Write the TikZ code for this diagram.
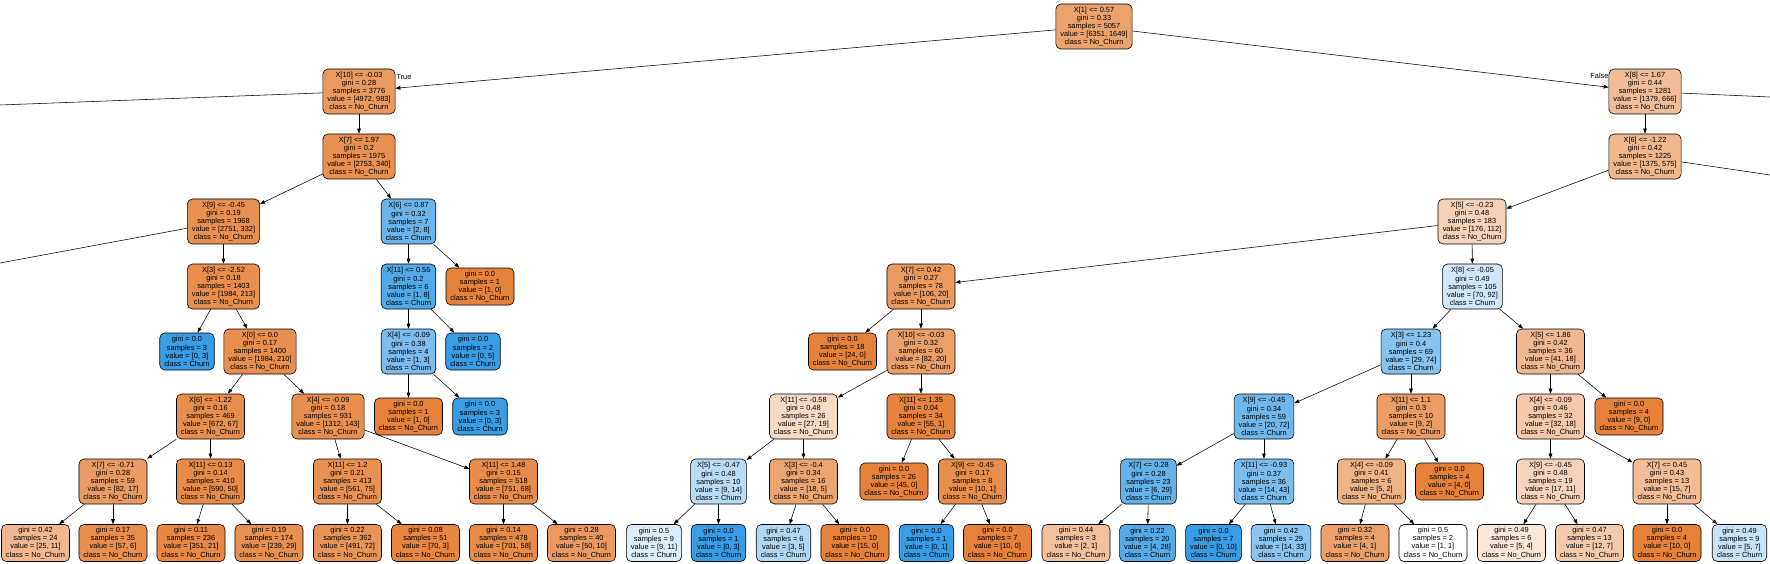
\documentclass[tikz,border=0pt]{standalone}
\usepackage{fontspec}
\setmainfont{Liberation Sans}
\usetikzlibrary{arrows.meta}
\definecolor{orng}{RGB}{229,129,57}
\definecolor{blu}{RGB}{57,157,229}
\newcommand\clsN{No\_Churn}
\newcommand\clsC{Churn}
\newcommand\IN[5]{#1\\gini = #2\\samples = #3\\value = #4\\class = #5}
\newcommand\LF[4]{gini = #1\\samples = #2\\value = #3\\class = #4}
\tikzset{
  box/.style={draw=black, line width=0.6pt, rounded corners=5pt, align=center,
    inner xsep=4.5pt, inner ysep=1pt, font=\fontsize{7.4pt}{8.1pt}\selectfont},
  int/.style={box, minimum height=45pt},
  lf/.style={box, minimum height=37pt},
  o/.style={fill=orng!#1!white},
  b/.style={fill=blu!#1!white},
  edge/.style={-{Triangle[length=5pt,width=3.6pt]}, line width=0.55pt},
  offedge/.style={line width=0.55pt},
  lbl/.style={font=\fontsize{7.4pt}{8.1pt}\selectfont, inner sep=0pt}
}
\begin{document}
\begin{tikzpicture}[x=1pt,y=-1pt]
\useasboundingbox (0,0) rectangle (1770,564);
% level 0-2
\node[int,o=74] (R) at (1094,26.5) {\IN{X[1] <= 0.57}{0.33}{5057}{[6351, 1649]}{\clsN}};
\node[int,o=80] (A) at (359,91.5) {\IN{X[10] <= -0.03}{0.28}{3776}{[4972, 983]}{\clsN}};
\node[int,o=52] (P) at (1645,91.5) {\IN{X[8] <= 1.67}{0.44}{1281}{[1379, 666]}{\clsN}};
\node[int,o=88] (B) at (359,156.5) {\IN{X[7] <= 1.97}{0.2}{1975}{[2753, 340]}{\clsN}};
\node[int,o=58] (Q) at (1645,156.5) {\IN{X[6] <= -1.22}{0.42}{1225}{[1375, 575]}{\clsN}};
% level 3
\node[int,o=88] (C) at (223.5,221.5) {\IN{X[9] <= -0.45}{0.19}{1968}{[2751, 332]}{\clsN}};
\node[int,b=75] (L) at (408.5,221.5) {\IN{X[6] <= 0.87}{0.32}{7}{[2, 8]}{\clsC}};
\node[int,o=36] (S) at (1472,221.5) {\IN{X[5] <= -0.23}{0.48}{183}{[176, 112]}{\clsN}};
% level 4
\node[int,o=89] (D) at (223.5,286.5) {\IN{X[3] <= -2.52}{0.18}{1403}{[1984, 213]}{\clsN}};
\node[int,b=88] (M) at (408.5,286.5) {\IN{X[11] <= 0.55}{0.2}{6}{[1, 8]}{\clsC}};
\node[lf,o=100] (Lr) at (480,286.5) {\LF{0.0}{1}{[1, 0]}{\clsN}};
\node[int,o=81] (T) at (921,286.5) {\IN{X[7] <= 0.42}{0.27}{78}{[106, 20]}{\clsN}};
\node[int,b=24] (AA) at (1472.5,286.5) {\IN{X[8] <= -0.05}{0.49}{105}{[70, 92]}{\clsC}};
% level 5
\node[lf,b=100] (Dl) at (187,351.5) {\LF{0.0}{3}{[0, 3]}{\clsC}};
\node[int,o=89] (E) at (260,351.5) {\IN{X[0] <= 0.0}{0.17}{1400}{[1984, 210]}{\clsN}};
\node[int,b=67] (N) at (408.5,351.5) {\IN{X[4] <= -0.09}{0.38}{4}{[1, 3]}{\clsC}};
\node[lf,b=100] (Mr) at (473,351.5) {\LF{0.0}{2}{[0, 5]}{\clsC}};
\node[lf,o=100] (Tl) at (842.5,351.5) {\LF{0.0}{18}{[24, 0]}{\clsN}};
\node[int,o=76] (U) at (921,351.5) {\IN{X[10] <= -0.03}{0.32}{60}{[82, 20]}{\clsN}};
\node[int,b=61] (AB) at (1411,351.5) {\IN{X[3] <= 1.23}{0.4}{69}{[29, 74]}{\clsC}};
\node[int,o=56] (AH) at (1550.5,351.5) {\IN{X[5] <= 1.86}{0.42}{36}{[41, 18]}{\clsN}};
% level 6
\node[int,o=90] (F) at (210.5,416.5) {\IN{X[6] <= -1.22}{0.16}{469}{[672, 67]}{\clsN}};
\node[int,o=89] (I) at (328,416.5) {\IN{X[4] <= -0.09}{0.18}{931}{[1312, 143]}{\clsN}};
\node[lf,o=100] (Nl) at (408.5,416.5) {\LF{0.0}{1}{[1, 0]}{\clsN}};
\node[lf,b=100] (Nr) at (480,416.5) {\LF{0.0}{3}{[0, 3]}{\clsC}};
\node[int,o=30] (V) at (803.5,416.5) {\IN{X[11] <= -0.58}{0.48}{26}{[27, 19]}{\clsN}};
\node[int,o=98] (Y) at (921,416.5) {\IN{X[11] <= 1.35}{0.04}{34}{[55, 1]}{\clsN}};
\node[int,b=72] (AC) at (1264,416.5) {\IN{X[9] <= -0.45}{0.34}{59}{[20, 72]}{\clsC}};
\node[int,o=78] (AF) at (1411,416.5) {\IN{X[11] <= 1.1}{0.3}{10}{[9, 2]}{\clsN}};
\node[int,o=44] (AI) at (1550.5,416.5) {\IN{X[4] <= -0.09}{0.46}{32}{[32, 18]}{\clsN}};
\node[lf,o=100] (AHr) at (1629,416.5) {\LF{0.0}{4}{[9, 0]}{\clsN}};
% level 7
\node[int,o=79] (G) at (113,481.5) {\IN{X[7] <= -0.71}{0.28}{59}{[82, 17]}{\clsN}};
\node[int,o=92] (H) at (210.5,481.5) {\IN{X[11] <= 0.13}{0.14}{410}{[590, 50]}{\clsN}};
\node[int,o=87] (J) at (347.5,481.5) {\IN{X[11] <= 1.2}{0.21}{413}{[561, 75]}{\clsN}};
\node[int,o=91] (K) at (503.5,481.5) {\IN{X[11] <= 1.48}{0.15}{518}{[751, 68]}{\clsN}};
\node[int,b=36] (W) at (718.5,481.5) {\IN{X[5] <= -0.47}{0.48}{10}{[9, 14]}{\clsC}};
\node[int,o=72] (X) at (803.5,481.5) {\IN{X[3] <= -0.4}{0.34}{16}{[18, 5]}{\clsN}};
\node[lf,o=100] (Yl) at (894,481.5) {\LF{0.0}{26}{[45, 0]}{\clsN}};
\node[int,o=90] (Z) at (972.5,481.5) {\IN{X[9] <= -0.45}{0.17}{8}{[10, 1]}{\clsN}};
\node[int,b=79] (AD) at (1148.5,481.5) {\IN{X[7] <= 0.28}{0.28}{23}{[6, 29]}{\clsC}};
\node[int,b=67] (AE) at (1264,481.5) {\IN{X[11] <= -0.93}{0.37}{36}{[14, 43]}{\clsC}};
\node[int,o=60] (AG) at (1371.5,481.5) {\IN{X[4] <= -0.09}{0.41}{6}{[5, 2]}{\clsN}};
\node[lf,o=100] (AFr) at (1449.5,481.5) {\LF{0.0}{4}{[4, 0]}{\clsN}};
\node[int,o=35] (AJ) at (1550.5,481.5) {\IN{X[9] <= -0.45}{0.48}{19}{[17, 11]}{\clsN}};
\node[int,o=53] (AK) at (1667,481.5) {\IN{X[7] <= 0.45}{0.43}{13}{[15, 7]}{\clsN}};
% level 8 leaves
\node[lf,o=56] (Gl) at (35.5,543) {\LF{0.42}{24}{[25, 11]}{\clsN}};
\node[lf,o=89] (Gr) at (113,543) {\LF{0.17}{35}{[57, 6]}{\clsN}};
\node[lf,o=94] (Hl) at (191,543) {\LF{0.11}{236}{[351, 21]}{\clsN}};
\node[lf,o=88] (Hr) at (269,543) {\LF{0.19}{174}{[239, 29]}{\clsN}};
\node[lf,o=85] (Jl) at (347.5,543) {\LF{0.22}{362}{[491, 72]}{\clsN}};
\node[lf,o=96] (Jr) at (425.5,543) {\LF{0.08}{51}{[70, 3]}{\clsN}};
\node[lf,o=92] (Kl) at (503.5,543) {\LF{0.14}{478}{[701, 58]}{\clsN}};
\node[lf,o=80] (Kr) at (581.5,543) {\LF{0.28}{40}{[50, 10]}{\clsN}};
\node[lf,b=18] (Wl) at (654,543) {\LF{0.5}{9}{[9, 11]}{\clsC}};
\node[lf,b=100] (Wr) at (718.5,543) {\LF{0.0}{1}{[0, 3]}{\clsC}};
\node[lf,b=40] (Xl) at (783.5,543) {\LF{0.47}{6}{[3, 5]}{\clsC}};
\node[lf,o=100] (Xr) at (855,543) {\LF{0.0}{10}{[15, 0]}{\clsN}};
\node[lf,b=100] (Zl) at (926.5,543) {\LF{0.0}{1}{[0, 1]}{\clsC}};
\node[lf,o=100] (Zr) at (997.5,543) {\LF{0.0}{7}{[10, 0]}{\clsN}};
\node[lf,o=50] (ADl) at (1076,543) {\LF{0.44}{3}{[2, 1]}{\clsN}};
\node[lf,b=86] (ADr) at (1147.5,543) {\LF{0.22}{20}{[4, 28]}{\clsC}};
\node[lf,b=100] (AEl) at (1213.5,543) {\LF{0.0}{7}{[0, 10]}{\clsC}};
\node[lf,b=58] (AEr) at (1281,543) {\LF{0.42}{29}{[14, 33]}{\clsC}};
\node[lf,o=75] (AGl) at (1355,543) {\LF{0.32}{4}{[4, 1]}{\clsN}};
\node[lf,fill=white] (AGr) at (1433,543) {\LF{0.5}{2}{[1, 1]}{\clsN}};
\node[lf,o=20] (AJl) at (1511.5,543) {\LF{0.49}{6}{[5, 4]}{\clsN}};
\node[lf,o=42] (AJr) at (1589.5,543) {\LF{0.47}{13}{[12, 7]}{\clsN}};
\node[lf,o=100] (AKl) at (1667,543) {\LF{0.0}{4}{[10, 0]}{\clsN}};
\node[lf,b=29] (AKr) at (1739.5,543) {\LF{0.49}{9}{[5, 7]}{\clsC}};
% off-picture targets
\coordinate (offA) at (0,105);
\coordinate (offC) at (0,263);
\coordinate (offP) at (1770,97);
\coordinate (offQ) at (1770,175);
% edge labels
\node[lbl] (tl) at (404,77) {True};
\node[lbl] (fl) at (1599.5,76) {False};
% edges
\foreach \a/\b in {R/A,R/P,A/B,B/C,B/L,C/D,D/Dl,D/E,E/F,E/I,F/G,F/H,G/Gl,G/Gr,H/Hl,H/Hr,
  I/J,I/K,J/Jl,J/Jr,K/Kl,K/Kr,L/M,L/Lr,M/N,M/Mr,N/Nl,N/Nr,
  P/Q,Q/S,S/T,S/AA,T/Tl,T/U,U/V,U/Y,V/W,V/X,W/Wl,W/Wr,X/Xl,X/Xr,Y/Yl,Y/Z,Z/Zl,Z/Zr,
  AA/AB,AA/AH,AB/AC,AB/AF,AC/AD,AC/AE,AD/ADl,AD/ADr,AE/AEl,AE/AEr,AF/AG,AF/AFr,
  AG/AGl,AG/AGr,AH/AI,AH/AHr,AI/AJ,AI/AK,AJ/AJl,AJ/AJr,AK/AKl,AK/AKr}
  \draw[edge] (\a) -- (\b);
\draw[offedge] (A) -- (offA);
\draw[offedge] (C) -- (offC);
\draw[offedge] (P) -- (offP);
\draw[offedge] (Q) -- (offQ);
\end{tikzpicture}
\end{document}
